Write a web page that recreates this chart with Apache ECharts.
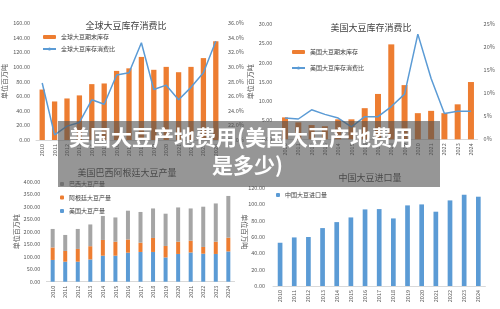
<!DOCTYPE html>
<html>
<head>
<meta charset="utf-8">
<script src="https://cdn.jsdelivr.net/npm/echarts@6/dist/echarts.min.js"></script>
<style>
  html, body { margin: 0; padding: 0; background: #fff; }
  #main { width: 500px; height: 309px; }
</style>
</head>
<body>
<div id="main"></div>
<script>
// 年份
const years = ['2010', '2011', '2012', '2013', '2014', '2015', '2016', '2017', '2018', '2019', '2020', '2021', '2022', '2023', '2024'];
// 全球大豆期末库存 / 库存消费比(%)
const globalStock = [69, 52.7, 56.8, 61, 76.4, 77.3, 94.5, 98, 113.6, 96, 100, 92.7, 100, 112, 135];
const globalRatio = [27.8, 20.7, 21.9, 22.4, 25.5, 24.9, 28.9, 29.2, 33.3, 26.9, 27.5, 25.5, 27.2, 29.2, 33.5];
// 美国大豆期末库存 / 库存消费比(%)
const usStock = [5.7, 4.4, 3.7, 3.4, 5.2, 5.2, 8.1, 11.8, 24.7, 14.1, 6.8, 7.4, 6.8, 9.1, 14.9];
const usRatio = [4.6, 4.4, 6.4, 5.4, 4.6, 2.7, 4.9, 4.9, 7.1, 9.8, 22.8, 13.2, 5.6, 6.1, 6.1];
// 美国 巴西 阿根廷 大豆产量
const usProd = [87, 80, 80, 89, 104, 104, 116, 119, 119, 97, 111, 117, 112, 111, 121];
const argProd = [50, 43, 51, 53, 63, 56, 53, 37, 56, 46, 49, 47, 27, 49, 55];
const brProd = [74, 64, 80, 87, 96, 97, 115, 123, 118, 129, 137, 129, 161, 153, 167];
// 中国大豆进口量
const chinaImport = [52.8, 59.3, 59.8, 70.7, 78, 83.7, 93.5, 93.9, 82.5, 98.4, 99.6, 90.7, 104.5, 111.4, 109];

const FONT = 'Noto Sans CJK SC';
const ORANGE = '#ED7D31';
const BLUE = '#5B9BD5';
const GRAY = '#A5A5A5';

let chart = echarts.init(document.getElementById('main'));

// 通用的坐标轴样式
function xCat(gridIndex) {
    return {
        type: 'category',
        gridIndex,
        data: years,
        axisTick: { show: false },
        axisLine: { lineStyle: { color: '#d9d9d9' } },
        axisLabel: { rotate: 90, interval: 0, fontSize: 5.5, color: '#595959', margin: 4, fontFamily: FONT }
    };
}
function yVal(gridIndex, min, max, interval, formatter, extra) {
    return Object.assign({
        type: 'value',
        gridIndex,
        min, max, interval,
        splitLine: { show: false },
        axisLine: { show: false },
        axisTick: { show: false },
        axisLabel: { fontSize: 5.5, color: '#595959', margin: 6, formatter, fontFamily: FONT },
        nameTextStyle: { fontSize: 7, color: '#595959', fontFamily: FONT },
        nameLocation: 'middle'
    }, extra || {});
}
const fix2 = v => v.toFixed(2);

function title(text, x, y) {
    return {
        text, left: x, top: y, textAlign: 'center', padding: 0,
        textStyle: { fontSize: 9, fontWeight: 'normal', color: '#404040', fontFamily: FONT }
    };
}
function legend(data, x, y, gap, w, h) {
    return {
        data, left: x, top: y, orient: 'vertical', padding: 0,
        itemGap: gap, itemWidth: w, itemHeight: h,
        textStyle: { fontSize: 6, color: '#404040', lineHeight: 8, fontFamily: FONT }
    };
}

let option = {
    animation: false,
    textStyle: { fontFamily: FONT },
    title: [
        title('全球大豆库存消费比', 126, 21),
        title('美国大豆库存消费比', 371, 23),
        title('美国巴西阿根廷大豆产量', 127, 168),
        title('中国大豆进口量', 370, 173)
    ],
    legend: [
        legend(['全球大豆期末库存', '全球大豆库存消费比'], 42, 33, 4, 13, 4),
        legend(['美国大豆期末库存', '美国大豆库存消费比'], 291, 48, 8, 13, 4),
        legend(['巴西大豆产量', '阿根廷大豆产量', '美国大豆产量'], 60, 180, 5.5, 4, 4),
        legend(['中国大豆进口量'], 276, 191, 5, 4, 4)
    ],
    grid: [
        { left: 33, right: 278, top: 23, bottom: 169 },
        { left: 278.4, right: 22.4, top: 24, bottom: 169.7 },
        { left: 46.4, right: 265.4, top: 181.7, bottom: 27.3 },
        { left: 273, right: 14.6, top: 187.7, bottom: 23 }
    ],
    xAxis: [xCat(0), xCat(1), xCat(2), xCat(3)],
    yAxis: [
        yVal(0, 0, 160, 20, fix2, { name: '单位百万吨', nameRotate: 90, nameGap: 28 }),
        yVal(0, 20, 36, 2, v => v.toFixed(1) + '%', { position: 'right' }),
        yVal(1, 0, 30, 5, fix2, { name: '单位百万吨', nameRotate: 90, nameGap: 25 }),
        yVal(1, 0, 25, 5, v => v + '%', { position: 'right' }),
        yVal(2, 0, 400, 50, fix2, { name: '单位百万吨', nameRotate: 90, nameGap: 21 }),
        yVal(2, 0, 400, 50, fix2, { position: 'right', name: '单位百万吨', nameRotate: -90, nameGap: 7, axisLabel: { show: false } }),
        yVal(3, 0, 120, 20, fix2, { axisLabel: { fontSize: 5.5, color: '#595959', margin: 8, formatter: fix2, fontFamily: FONT } })
    ],
    series: [
        { type: 'bar', name: '全球大豆期末库存', xAxisIndex: 0, yAxisIndex: 0, data: globalStock, barWidth: 5.3, itemStyle: { color: ORANGE } },
        { type: 'line', name: '全球大豆库存消费比', xAxisIndex: 0, yAxisIndex: 1, data: globalRatio, symbol: 'none', lineStyle: { width: 1.5, color: BLUE }, itemStyle: { color: BLUE } },
        { type: 'bar', name: '美国大豆期末库存', xAxisIndex: 1, yAxisIndex: 2, data: usStock, barWidth: 6, itemStyle: { color: ORANGE } },
        { type: 'line', name: '美国大豆库存消费比', xAxisIndex: 1, yAxisIndex: 3, data: usRatio, symbol: 'none', lineStyle: { width: 1.5, color: BLUE }, itemStyle: { color: BLUE } },
        { type: 'bar', name: '美国大豆产量', xAxisIndex: 2, yAxisIndex: 4, stack: 'prod', data: usProd, barWidth: 4, itemStyle: { color: BLUE } },
        { type: 'bar', name: '阿根廷大豆产量', xAxisIndex: 2, yAxisIndex: 4, stack: 'prod', data: argProd, barWidth: 4, itemStyle: { color: ORANGE } },
        { type: 'bar', name: '巴西大豆产量', xAxisIndex: 2, yAxisIndex: 4, stack: 'prod', data: brProd, barWidth: 4, itemStyle: { color: GRAY } },
        { type: 'bar', name: '中国大豆进口量', xAxisIndex: 3, yAxisIndex: 6, data: chinaImport, barWidth: 4.7, itemStyle: { color: BLUE } }
    ],
    // 半透明的标题横幅
    graphic: [
        { type: 'rect', z: 100, shape: { x: 58, y: 121, width: 382, height: 66 }, style: { fill: 'rgba(80,80,80,0.6)' } },
        { type: 'text', z: 101, x: 69, y: 137, style: { text: '美国大豆产地费用(美国大豆产地费用', fill: '#fff', font: 'bold 21px "Noto Sans CJK SC"', verticalAlign: 'middle' } },
        { type: 'text', z: 101, x: 212, y: 165, style: { text: '是多少)', fill: '#fff', font: 'bold 21px "Noto Sans CJK SC"', verticalAlign: 'middle' } }
    ]
};
chart.setOption(option);
</script>
</body>
</html>
